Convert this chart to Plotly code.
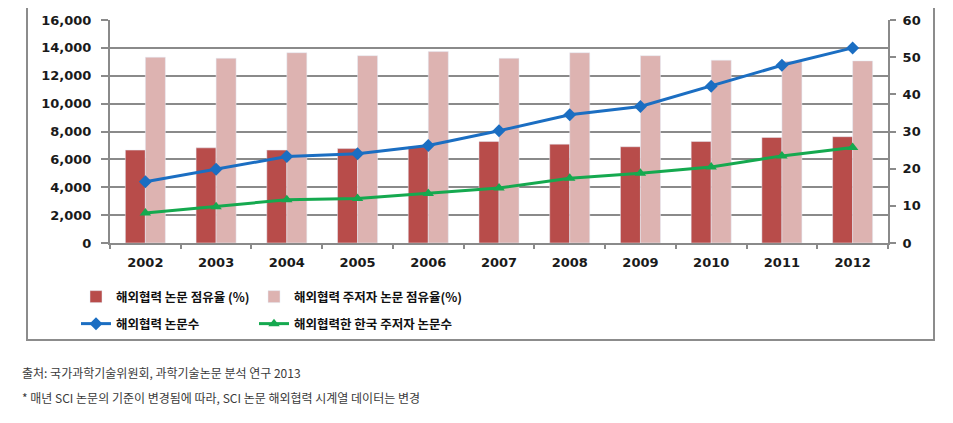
import plotly.graph_objects as go

years = ["2002", "2003", "2004", "2005", "2006", "2007", "2008", "2009", "2010", "2011", "2012"]
share_collab = [25.0, 25.6, 25.0, 25.4, 25.9, 27.3, 26.6, 25.9, 27.3, 28.4, 28.6]
share_lead = [50.0, 49.7, 51.2, 50.4, 51.5, 49.7, 51.2, 50.4, 49.2, 48.9, 49.0]
papers_collab = [4400, 5300, 6200, 6400, 7000, 8050, 9200, 9800, 11250, 12750, 14000]
papers_korea_lead = [2150, 2600, 3100, 3200, 3550, 3950, 4650, 5000, 5450, 6250, 6850]

names = ["해외협력 논문 점유율 (%)", "해외협력 주저자 논문 점유율(%)",
         "해외협력 논문수", "해외협력한 한국 주저자 논문수"]
notes = ["출처: 국가과학기술위원회, 과학기술논문 분석 연구 2013",
         "* 매년 SCI 논문의 기준이 변경됨에 따라, SCI 논문 해외협력 시계열 데이터는 변경"]

OFF = 8  # page body margin
W, H = 953 - OFF, 423 - OFF
# plot area in absolute window pixels
L, R, T, B = 110, 888, 20, 243


def px(x):
    return (x - L) / (R - L)


def py(y):
    return (B - y) / (B - T)


grid = "#8a8a8a"
tickfont = dict(family="DejaVu Sans", size=13, color="#1a1a1a", weight="bold")
legfont = dict(family="Noto Sans CJK KR", size=12.5, color="#111111", weight="bold")

fig = go.Figure()
fig.add_trace(go.Bar(x=years, y=share_collab, name=names[0], marker_color="#b84c4a",
                     yaxis="y", legend="legend"))
fig.add_trace(go.Bar(x=years, y=share_lead, name=names[1], marker_color="#ddb3b1",
                     yaxis="y", legend="legend2"))
fig.add_trace(go.Scatter(x=years, y=papers_collab, name=names[2], mode="lines+markers",
                         line=dict(color="#1b6ec2", width=3),
                         marker=dict(symbol="diamond", size=10, color="#1b6ec2"),
                         yaxis="y2", legend="legend3"))
fig.add_trace(go.Scatter(x=years, y=papers_korea_lead, name=names[3], mode="lines+markers",
                         line=dict(color="#15a94f", width=3),
                         marker=dict(symbol="triangle-up", size=10, color="#15a94f"),
                         yaxis="y2", legend="legend4"))


def leg(x, ytop):
    return dict(orientation="h", x=px(x), y=py(ytop), xanchor="left", yanchor="top",
                font=legfont, bgcolor="rgba(0,0,0,0)")


fig.update_layout(
    width=W, height=H,
    margin=dict(l=L - OFF, r=W - (R - OFF), t=T - OFF, b=H - (B - OFF), pad=0,
                autoexpand=False),
    paper_bgcolor="white", plot_bgcolor="white",
    barmode="group", bargap=0.434, bargroupgap=0,
    xaxis=dict(type="category", range=[-0.5, len(years) - 0.5], autorange=False,
               tickson="boundaries", ticks="outside", ticklen=4,
               tickcolor=grid, tickwidth=2, showline=True, linecolor=grid, linewidth=2,
               showgrid=False, tickfont=tickfont, ticklabelstandoff=6),
    yaxis=dict(side="right", range=[0, 60], dtick=10, showgrid=False, ticks="outside",
               ticklen=6, tickcolor=grid, tickwidth=2, showline=True, linecolor=grid,
               linewidth=2, tickfont=tickfont, ticklabelstandoff=4, zeroline=False),
    yaxis2=dict(side="left", overlaying="y", range=[0, 16000], dtick=2000, tickformat=",",
                showgrid=True, gridcolor=grid, gridwidth=2, ticks="outside", ticklen=7,
                tickcolor=grid, tickwidth=2, showline=True, linecolor=grid, linewidth=2,
                tickfont=tickfont, ticklabelstandoff=7, zeroline=False),
    legend=leg(76, 282),
    legend2=leg(254, 282),
    legend3=leg(76, 309),
    legend4=leg(254, 309),
    showlegend=True,
)

fig.add_shape(type="rect", xref="paper", yref="paper",
              x0=px(27), x1=px(934), y0=py(340), y1=py(5),
              line=dict(color="#8c8c8c", width=2), layer="below")

for txt, yy in zip(notes, [372, 397]):
    fig.add_annotation(text=txt, xref="paper", yref="paper", x=px(20), y=py(yy),
                       xanchor="left", yanchor="middle", showarrow=False,
                       font=dict(family="Noto Sans CJK KR", size=12, color="#3a3a3a"))

fig.write_html("out.html")
